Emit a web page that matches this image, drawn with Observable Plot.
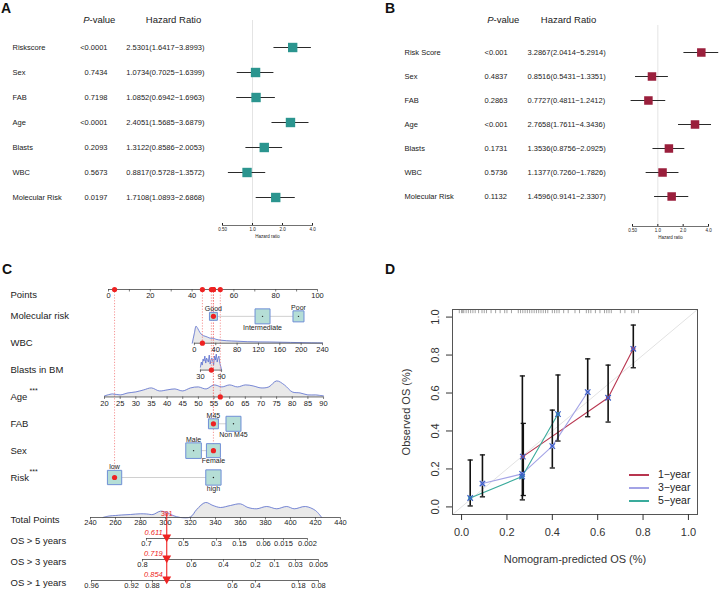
<!DOCTYPE html>
<html>
<head>
<meta charset="utf-8">
<script src="https://cdn.jsdelivr.net/npm/d3@7"></script>
<script src="https://cdn.jsdelivr.net/npm/@observablehq/plot@0.6"></script>
<style>
html,body{margin:0;padding:0;background:#fff;}
#root{position:relative;width:719px;height:589px;overflow:hidden;font-family:"Liberation Sans",Arial,Helvetica,sans-serif;color:#222;}
.letter{position:absolute;font-weight:bold;font-size:14px;line-height:14px;color:#111;}
.legend{position:absolute;font-size:10.5px;line-height:13px;color:#222;}
.legend span{display:inline-block;width:20px;height:1.6px;vertical-align:middle;margin-right:9px;}
</style>
</head>
<body>
<div id="root"></div>
<script>
// ================= DATA =================
// Panel A (univariate)
const aVars = ["Riskscore","Sex","FAB","Age","Blasts","WBC","Molecular Risk"];
const aP    = ["<0.0001","0.7434","0.7198","<0.0001","0.2093","0.5673","0.0197"];
const aHR   = [2.5301,1.0734,1.0852,2.4051,1.3122,0.8817,1.7108];
const aLo   = [1.6417,0.7025,0.6942,1.5685,0.8586,0.5728,1.0893];
const aHi   = [3.8993,1.6399,1.6963,3.6879,2.0053,1.3572,2.6868];
// Panel B (multivariate)
const bVars = ["Risk Score","Sex","FAB","Age","Blasts","WBC","Molecular Risk"];
const bP    = ["<0.001","0.4837","0.2863","<0.001","0.1731","0.5736","0.1132"];
const bHR   = [3.2867,0.8516,0.7727,2.7658,1.3536,1.1377,1.4596];
const bLo   = [2.0414,0.5431,0.4811,1.7611,0.8756,0.7260,0.9141];
const bHi   = [5.2914,1.3351,1.2412,4.3436,2.0925,1.7826,2.3307];
const hrTicks = [0.5, 1, 2, 4];

// Panel C (nomogram)
const nomoTopRows = ["Points","Molecular risk","WBC","Blasts in BM","Age","FAB","Sex","Risk"];
const nomoBotRows = ["Total Points","OS > 5 years","OS > 3 years","OS > 1 years"];
const pointsTicks = [0,10,20,30,40,50,60,70,80,90,100];
const pointsLabels = [0,20,40,60,80,100];
const wbcTicks = [0,40,80,120,160,200,240];
const blastTicks = [30,90];
const ageTicks = [20,25,30,35,40,45,50,55,60,65,70,75,80,85,90];
const molCats = ["Good","Intermediate","Poor"], molPts = [50.2,73.7,90.9], molN = [28,100,54];
const fabCats = ["M45","Non M45"],             fabPts = [50.2,59.8],      fabN = [44,100];
const sexCats = ["Male","Female"],             sexPts = [40.7,50.2],      sexN = [108,87];
const riskCats = ["low","high"],               riskPts = [2.9,50.2],      riskN = [91,104];
// densities (arbitrary units) of continuous predictors
const wbcDensX = [-4,0,3,6,10,15,20,25,30,35,40,50,60,70,80,100,120,140,160,180,200,220,240];
const wbcDensY = [0,10,17,15,11,8,7,6,5,5,4,3,2.5,2.2,2,1.5,1.3,1.2,1,0.8,0.6,0.4,0.3];
const blastDensX = [30,32.5,35,37.5,40,42.5,45,47.5,50,52.5,55,57.5,60,62.5,65,67.5,70,72.5,75,77.5,80,82.5,85,87.5,90];
const blastDensY = [3,8,5,11,9,14,7,12,10,8,15,6,10,12,9,5,14,10,16,8,12,14,7,4,0];
const ageDensX = [20,22.5,25,27.5,30,32.5,35,37.5,40,42.5,45,47.5,50,52.5,55,57.5,60,62.5,65,67.5,70,72.5,75,77.5,80,82.5,85,87.5,90];
const ageDensY = [1,3,2,4,5,7,9,6,7,8,6,9,10,8,12,10,12,10,12,11,9,10,16,12,5,4,2,2,1];
const totDensX = [250,255,260,265,272,280,285,290,296,301,306,312,320,325,332,338,344,352,360,366,373,381,389,397,403,412,420,425];
const totDensY = [0,1.5,2,2.5,3,3.7,3.5,3,6.3,5,2,0,0.5,8,15,12,10,12,13.6,10,8.7,11,8.7,11,8.7,11,7,0];
const totalTicks = [240,260,280,300,320,340,360,380,400,420,440];
const os5Labels = ["0.7","0.5","0.3","0.15","0.06","0.015","0.002"];
const os5At     = [284.8,314.4,340.8,359.2,378.4,394.4,413.6];
const os3Labels = ["0.8","0.6","0.4","0.2","0.1","0.03","0.005"];
const os3At     = [281.6,320.8,346.4,372,387.2,404,422.4];
const os1Labels = ["0.96","0.92","0.88","0.8","0.6","0.4","0.18","0.08"];
const os1At     = [240.8,272.8,289.6,316,353.6,372,406.4,422.4];
const patient = {"Molecular risk":"Good","WBC":15,"Blasts in BM":61,"Age":57,"FAB":"M45","Sex":"Female","Risk":"low"};
const osPred = ["0.611","0.719","0.854"];

// Panel D (calibration)
const calYears  = ["1\u2212year","3\u2212year","5\u2212year"];
const calColors = ["#b8354f","#a3a3e6","#3aab9c"];
const cal1X = [0.270,0.646,0.757],             cal1Y = [0.265,0.575,0.833];
const cal3X = [0.092,0.267,0.400,0.556],       cal3Y = [0.123,0.174,0.320,0.605];
const cal5X = [0.038,0.267,0.425],             cal5Y = [0.047,0.160,0.489];
const errX  = [0.038,0.092,0.268,0.272,0.400,0.425,0.556,0.646,0.757];
const errLo = [0.005,0.053,0.037,0.060,0.205,0.347,0.475,0.447,0.733];
const errHi = [0.247,0.274,0.690,0.440,0.510,0.695,0.780,0.747,0.958];
const rug = [-0.01,0.0,0.005,0.01,0.02,0.03,0.04,0.05,0.06,0.075,0.09,0.1,0.11,0.13,0.15,0.17,0.19,0.2,0.22,0.25,0.26,0.27,0.28,0.29,0.3,0.31,0.32,0.33,0.34,0.35,0.36,0.37,0.38,0.4,0.41,0.42,0.43,0.45,0.47,0.5,0.52,0.55,0.56,0.57,0.59,0.61,0.63,0.64,0.65,0.66,0.7,0.72,0.75,0.76,0.78];
const calTicks = [0,0.2,0.4,0.6,0.8,1];

// ================= RENDER =================
const FONT = '"Liberation Sans", Arial, Helvetica, sans-serif';
const root = document.getElementById("root");
function put(node, left, top) { node.style.position = "absolute"; node.style.left = left + "px"; node.style.top = top + "px"; root.appendChild(node); return node; }
function letter(t, left, top) { const d = document.createElement("div"); d.className = "letter"; d.textContent = t; put(d, left, top); }

function forest(c) {
  const rows = c.vars.map((v, i) => ({v, p: c.p[i], hr: c.hr[i], lo: c.lo[i], hi: c.hi[i],
    txt: `${c.hr[i].toFixed(4)}(${c.lo[i].toFixed(4)}\u2212${c.hi[i].toFixed(4)})`}));
  const L = c.marginLeft, T = c.marginTop;
  return Plot.plot({
    width: c.width, height: 270, marginLeft: L, marginRight: c.marginRight, marginTop: T, marginBottom: 270 - c.frameBottom,
    style: {fontFamily: FONT, background: "transparent", color: "#222"},
    x: {type: "log", domain: [0.5, 4]},
    y: {type: "point", domain: c.vars, range: c.yRange, axis: null},
    marks: [
      Plot.ruleX([1], {stroke: "#e4e4e4", strokeWidth: 1}),
      Plot.frame({anchor: "bottom", stroke: "#333", strokeWidth: 0.7}),
      Plot.axisX({ticks: hrTicks, tickFormat: d => d === 0.5 ? "0.50" : d.toFixed(1), tickSize: -2, tickPadding: 4.5, fontSize: 4.5,
                  label: "Hazard ratio", labelAnchor: "center", labelArrow: "none", labelOffset: 12.5}),
      Plot.ruleY(rows, {y: "v", x1: "lo", x2: "hi", stroke: "#2a2a2a", strokeWidth: 1.1}),
      Plot.dot(rows, {y: "v", x: "hr", symbol: "square", r: c.r, fill: c.color}),
      Plot.text(rows, {y: "v", text: "v", frameAnchor: "left", dx: c.labelX - L, textAnchor: "start", fontSize: 7.5}),
      Plot.text(rows, {y: "v", text: "p", frameAnchor: "left", dx: c.pX - L, textAnchor: c.pAnchor, fontSize: 7.5}),
      Plot.text(rows, {y: "v", text: "txt", frameAnchor: "left", dx: c.hrX - L, textAnchor: c.hrAnchor, fontSize: 7.5}),
      Plot.text(["P"], {text: d => d, frameAnchor: "top-left", dx: c.pHeadX - L, dy: c.headY - T, textAnchor: "end", fontStyle: "italic", fontSize: 9.5}),
      Plot.text(["-value"], {text: d => d, frameAnchor: "top-left", dx: c.pHeadX - L, dy: c.headY - T, textAnchor: "start", fontSize: 9.5}),
      Plot.text(["Hazard Ratio"], {text: d => d, frameAnchor: "top-left", dx: c.hrHeadX - L, dy: c.headY - T, textAnchor: "middle", fontSize: 9.5})
    ]
  });
}

put(forest({vars: aVars, p: aP, hr: aHR, lo: aLo, hi: aHi, color: "#2b958f", r: 5.3,
  width: 360, marginLeft: 222, marginRight: 48, marginTop: 20, frameBottom: 225, yRange: [33, 211],
  labelX: 12, pX: 107, pAnchor: "end", hrX: 204, hrAnchor: "end", pHeadX: 89, headY: 16, hrHeadX: 173}), 0, 0);
put(forest({vars: bVars, p: bP, hr: bHR, lo: bLo, hi: bHi, color: "#9a1f3c", r: 4.8,
  width: 359, marginLeft: 272, marginRight: 11, marginTop: 25, frameBottom: 226, yRange: [37, 211],
  labelX: 44, pX: 124, pAnchor: "start", hrX: 167, hrAnchor: "start", pHeadX: 133, headY: 16, hrHeadX: 208}), 360, 0);

// ---- Panel C: nomogram ----
const RT = Object.fromEntries(nomoTopRows.map((r, i) => [r, i]));
const RB = Object.fromEntries(nomoBotRows.map((r, i) => [r, i]));
const topRowPx = (197 - 9) / 7, botRowPx = (85 - 22) / 3;
const toPts = {
  "Points": v => v,
  "WBC": v => 41.1 + v * 0.2554,
  "Blasts in BM": v => 44.0 + (v - 30) * 0.1683,
  "Age": v => -1.9 + (v - 20) * 1.497
};
const tpToPts = tp => (tp - 254.4) * 0.598;
const topAxes = [
  {row: "Points", ticks: pointsTicks, labels: pointsLabels},
  {row: "WBC", ticks: wbcTicks, labels: wbcTicks},
  {row: "Blasts in BM", ticks: blastTicks, labels: blastTicks},
  {row: "Age", ticks: ageTicks, labels: ageTicks}
];
const tTicks = topAxes.flatMap(a => a.ticks.map(v => ({row: RT[a.row], x: toPts[a.row](v), label: a.labels.includes(v) ? String(v) : ""})));
const tLines = topAxes.map(a => ({row: RT[a.row], x1: toPts[a.row](a.ticks[0]), x2: toPts[a.row](a.ticks[a.ticks.length - 1])}));
const catGroups = [
  {row: "Molecular risk", names: molCats, pts: molPts, n: molN},
  {row: "FAB", names: fabCats, pts: fabPts, n: fabN},
  {row: "Sex", names: sexCats, pts: sexPts, n: sexN},
  {row: "Risk", names: riskCats, pts: riskPts, n: riskN}
];
const rMax = 8.46, rScale = n => rMax * Math.sqrt(n / 100);
const cats = catGroups.flatMap(g => g.names.map((name, i) => ({row: RT[g.row], name, pts: g.pts[i], n: g.n[i], above: i % 2 === 0})));
const catLines = catGroups.map(g => ({row: RT[g.row], x1: d3.min(g.pts), x2: d3.max(g.pts)}));
const sel = Object.entries(patient).map(([row, v]) => {
  const g = catGroups.find(g => g.row === row);
  const pts = g ? g.pts[g.names.indexOf(v)] : toPts[row](v);
  return {row: RT[row], pts};
});
const totalPts = d3.sum(sel, d => d.pts); // ≈ 301
const tpPatient = Math.round(totalPts);
function densRecs(row, xs, hs, f) { return xs.map((v, i) => ({row, x: f(v), h: hs[i]})); }
const wbcD = densRecs(RT["WBC"], wbcDensX, wbcDensY, toPts["WBC"]);
const blastD = densRecs(RT["Blasts in BM"], blastDensX, blastDensY, toPts["Blasts in BM"]);
const ageD = densRecs(RT["Age"], ageDensX, ageDensY, toPts["Age"]);
function densMarks(recs, rowPx, curve) {
  return [
    Plot.areaY(recs, {x: "x", y1: "row", y2: d => d.row - d.h / rowPx, fill: "#e9e9e9", curve}),
    Plot.line(recs, {x: "x", y: d => d.row - d.h / rowPx, stroke: "#5a6fd1", strokeWidth: 0.8, curve})
  ];
}
const red = "#ee2222";
const nomoTop = Plot.plot({
  width: 360, height: 215, marginLeft: 108, marginRight: 43, marginTop: 9, marginBottom: 18,
  style: {fontFamily: FONT, background: "transparent", color: "#222"},
  x: {domain: [0, 100], range: [108, 317], axis: null},
  y: {domain: [0, 7], range: [9, 197], axis: null},
  r: {domain: [0, 100], range: [0, rMax]},
  marks: [
    ...densMarks(wbcD, topRowPx, "monotone-x"),
    ...densMarks(blastD, topRowPx, "linear"),
    ...densMarks(ageD, topRowPx, "catmull-rom"),
    Plot.ruleX(sel, {x: "pts", y1: () => 0, y2: "row", stroke: "#f27a7a", strokeWidth: 0.8, strokeDasharray: "1.2,1.6"}),
    Plot.ruleY(tLines, {y: "row", x1: "x1", x2: "x2", stroke: "#444", strokeWidth: 0.8}),
    Plot.ruleX(tTicks, {x: "x", y1: "row", y2: d => d.row + 2.5 / topRowPx, stroke: "#444", strokeWidth: 0.7}),
    Plot.text(tTicks, {x: "x", y: "row", text: "label", dy: 6.5, fontSize: 7.5}),
    Plot.ruleY(catLines, {y: "row", x1: "x1", x2: "x2", stroke: "#d0d0d0", strokeWidth: 1}),
    Plot.dot(cats, {x: "pts", y: "row", r: "n", symbol: "square", fill: "#b5ded6", stroke: "#6f8fd6", strokeWidth: 1}),
    Plot.dot(cats, {x: "pts", y: "row", r: 0.7, fill: "#222"}),
    Plot.text(cats, {x: "pts", y: d => d.row + (d.above ? -1 : 1) * (1.772 * rScale(d.n) / 2 + 3.5) / topRowPx, text: "name", fontSize: 7}),
    Plot.dot(sel, {x: "pts", y: () => 0, r: 2.6, fill: red}),
    Plot.dot(sel, {x: "pts", y: "row", r: 2.6, fill: red}),
    Plot.text(nomoTopRows, {text: d => d, y: (d, i) => i + (i === 0 ? 5 / topRowPx : 0), frameAnchor: "left", dx: 10 - 108, textAnchor: "start", fontSize: 9.5}),
    Plot.text(["Age", "Risk"], {text: () => "***", y: d => RT[d], frameAnchor: "left", dx: 29 - 108, dy: -6, textAnchor: "start", fontSize: 7})
  ]
});
put(nomoTop, 0, 280);

const osAxes = [
  {row: "OS > 5 years", at: os5At, labels: os5Labels},
  {row: "OS > 3 years", at: os3At, labels: os3Labels},
  {row: "OS > 1 years", at: os1At, labels: os1Labels}
];
const bTicks = [
  ...totalTicks.map(v => ({row: 0, x: tpToPts(v), label: String(v)})),
  ...osAxes.flatMap(a => a.at.map((t, i) => ({row: RB[a.row], x: tpToPts(t), label: a.labels[i]})))
];
const bLines = [
  {row: 0, x1: tpToPts(totalTicks[0]), x2: tpToPts(totalTicks[totalTicks.length - 1])},
  ...osAxes.map(a => ({row: RB[a.row], x1: tpToPts(a.at[0]), x2: tpToPts(a.at[a.at.length - 1])}))
];
const totD = densRecs(0, totDensX, totDensY, tpToPts);
const nomoBot = Plot.plot({
  width: 360, height: 94, marginLeft: 108, marginRight: 43, marginTop: 22, marginBottom: 9,
  style: {fontFamily: FONT, background: "transparent", color: "#222"},
  x: {domain: [0, 100], range: [108, 317], axis: null},
  y: {domain: [0, 3], range: [22, 85], axis: null},
  marks: [
    ...densMarks(totD, botRowPx, "catmull-rom"),
    Plot.ruleY(bLines, {y: "row", x1: "x1", x2: "x2", stroke: "#444", strokeWidth: 0.8}),
    Plot.ruleX(bTicks, {x: "x", y1: "row", y2: d => d.row + 2.5 / botRowPx, stroke: "#444", strokeWidth: 0.7}),
    Plot.text(bTicks, {x: "x", y: "row", text: "label", dy: 5, fontSize: 7.5}),
    Plot.ruleX([tpPatient], {x: d => tpToPts(d), y1: () => -4 / botRowPx, y2: () => 3, stroke: red, strokeWidth: 1.1}),
    Plot.dot([1, 2, 3], {x: () => tpToPts(tpPatient), y: d => d, symbol: "triangle", rotate: 180, r: 3.3, fill: red, dy: -1.5}),
    Plot.text([tpPatient], {x: d => tpToPts(d), y: () => 0, text: d => String(d), dy: -4, fill: red, fontSize: 7}),
    Plot.text(osPred, {x: () => tpToPts(tpPatient), y: (d, i) => i + 1, text: d => d, dx: -4, dy: -6, textAnchor: "end", fill: red, fontStyle: "italic", fontSize: 7.5}),
    Plot.text(nomoBotRows, {text: d => d, y: (d, i) => i, dy: 2, frameAnchor: "left", dx: 10 - 108, textAnchor: "start", fontSize: 9.5})
  ]
});
put(nomoBot, 0, 495);

// ---- Panel D: calibration ----
const calSeries = [{name: calYears[0], x: cal1X, y: cal1Y}, {name: calYears[1], x: cal3X, y: cal3Y}, {name: calYears[2], x: cal5X, y: cal5Y}];
const calData = calSeries.flatMap(s => s.x.map((x, i) => ({s: s.name, x, y: s.y[i]})));
const errs = errX.map((x, i) => ({x, lo: errLo[i], hi: errHi[i]}));
const capSym = {draw(ctx, size) { const w = Math.sqrt(size / Math.PI); ctx.moveTo(-w, 0); ctx.lineTo(w, 0); }};
const diag = [-0.04, 1.04];
const calPlot = Plot.plot({
  width: 359, height: 309, marginLeft: 92, marginRight: 22, marginTop: 29, marginBottom: 75,
  style: {fontFamily: FONT, background: "transparent", color: "#333", fontSize: "11px"},
  x: {domain: [-0.04, 1.04]},
  y: {domain: [-0.04, 1.04]},
  color: {domain: calYears, range: calColors},
  marks: [
    Plot.line(diag.map(v => ({v})), {x: "v", y: "v", stroke: "#e2e2e2", strokeWidth: 1}),
    Plot.ruleX(rug, {x: d => d, y1: () => 1.04, y2: () => 1.018, stroke: "#666", strokeWidth: 0.6}),
    Plot.line(calData, {x: "x", y: "y", z: "s", stroke: "s", strokeWidth: 1.1}),
    Plot.ruleX(errs, {x: "x", y1: "lo", y2: "hi", stroke: "#111", strokeWidth: 1.6}),
    Plot.dot(errs, {x: "x", y: "lo", symbol: capSym, r: 2.6, stroke: "#111", strokeWidth: 1.3}),
    Plot.dot(errs, {x: "x", y: "hi", symbol: capSym, r: 2.6, stroke: "#111", strokeWidth: 1.3}),
    Plot.dot(calData, {x: "x", y: "y", r: 2.2, fill: "s"}),
    Plot.dot(calData, {x: "x", y: "y", symbol: "times", r: 2.6, stroke: "#3b5fc6", strokeWidth: 1.2}),
    Plot.frame({stroke: "#555", strokeWidth: 1}),
    Plot.axisX({ticks: calTicks, tickFormat: ".1f", tickSize: 6, tickPadding: 8, fontSize: 11,
                label: "Nomogram-predicted OS (%)", labelAnchor: "center", labelArrow: "none", labelOffset: 48}),
    Plot.axisY({ticks: calTicks, tickFormat: ".1f", tickSize: 6, tickPadding: 8, tickRotate: -90, fontSize: 11,
                label: "Observed OS (%)", labelAnchor: "center", labelArrow: "none", labelOffset: 50})
  ]
});
put(calPlot, 360, 280);

// legend (inside panel D)
const leg = document.createElement("div");
leg.className = "legend";
calYears.forEach((name, i) => {
  const row = document.createElement("div");
  const sw = document.createElement("span");
  sw.style.background = calColors[i];
  row.appendChild(sw);
  row.appendChild(document.createTextNode(name));
  leg.appendChild(row);
});
put(leg, 629, 468);

letter("A", 1, 1); letter("B", 385, 1); letter("C", 2, 262); letter("D", 385, 262);
</script>
</body>
</html>
